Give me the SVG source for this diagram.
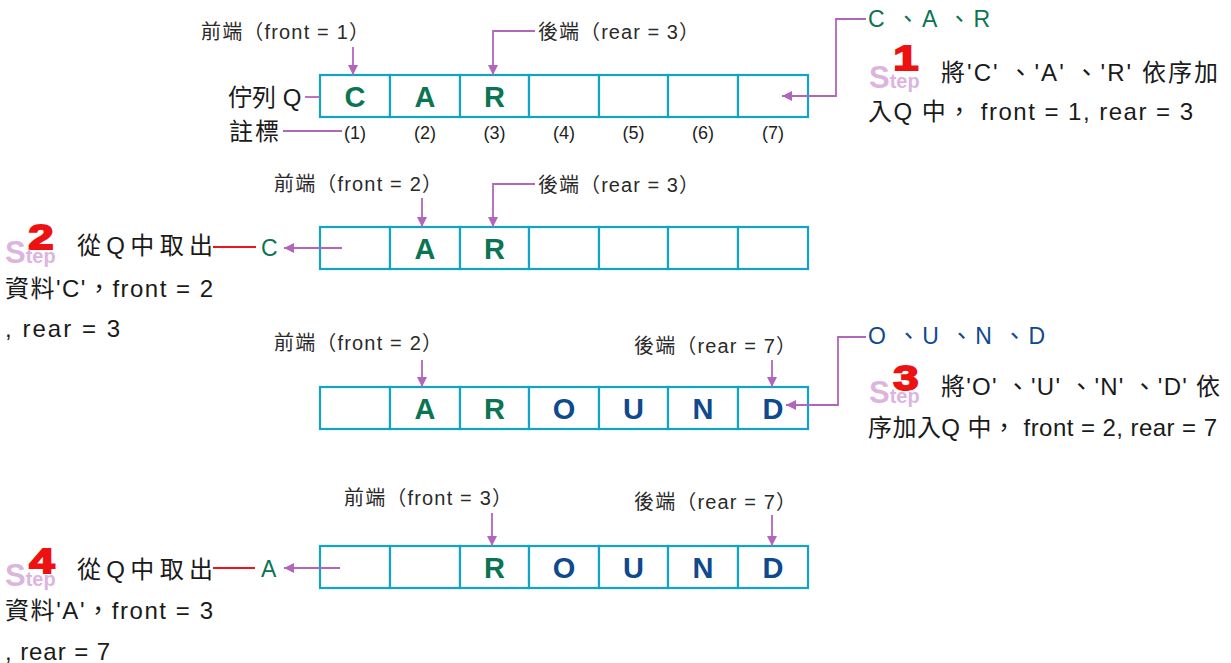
<svg xmlns="http://www.w3.org/2000/svg" width="1231" height="663" viewBox="0 0 1231 663">
<style>
text{font-family:"Liberation Sans","Noto Sans CJK TC",sans-serif;}
.cell{fill:#fff;stroke:#12a3c6;stroke-width:2.2;}
.lbl{font-size:20px;fill:#2a2a2a;}
.idx{font-size:18px;fill:#222;text-anchor:middle;}
.g{font-size:29px;font-weight:bold;fill:#0b7452;text-anchor:middle;}
.b{font-size:29px;font-weight:bold;fill:#0e4a8c;text-anchor:middle;}
.con{fill:none;stroke:#b266bb;stroke-width:1.8;}
.red{fill:none;stroke:#e8181c;stroke-width:2.2;}
.step{fill:#dcb5df;font-weight:bold;}
.num{fill:#ee1111;stroke:#ee1111;stroke-width:1.8;font-weight:bold;font-size:35px;text-anchor:middle;}
.txt{font-size:24px;fill:#1a1a1a;}
.gt{font-size:23px;fill:#0b7452;}
.bt{font-size:23px;fill:#0e4a8c;}
</style>
<defs>
<marker id="ah" viewBox="0 0 10 10" refX="10" refY="5" markerWidth="10" markerHeight="10" markerUnits="userSpaceOnUse" orient="auto">
<path d="M0,0 L10,5 L0,10 z" fill="#b266bb"/>
</marker>
</defs>

<g id="queue1">
<rect class="cell" x="320" y="75" width="70" height="42"/><rect class="cell" x="390" y="75" width="70" height="42"/><rect class="cell" x="460" y="75" width="69" height="42"/><rect class="cell" x="529" y="75" width="70" height="42"/><rect class="cell" x="599" y="75" width="69" height="42"/><rect class="cell" x="668" y="75" width="70" height="42"/><rect class="cell" x="738" y="75" width="70" height="42"/>
<text class="g" x="355" y="107">C</text><text class="g" x="425" y="107">A</text><text class="g" x="494.5" y="107">R</text>
<text class="idx" x="355" y="139">(1)</text><text class="idx" x="425" y="139">(2)</text><text class="idx" x="494.5" y="139">(3)</text><text class="idx" x="564" y="139">(4)</text><text class="idx" x="633.5" y="139">(5)</text><text class="idx" x="703" y="139">(6)</text><text class="idx" x="773" y="139">(7)</text>
</g>
<g id="labels1">
<text class="lbl" x="201" y="39" textLength="168" lengthAdjust="spacing">前端（front = 1）</text>
<text class="lbl" x="538" y="39" textLength="161" lengthAdjust="spacing">後端（rear = 3）</text>
<text class="txt" x="228" y="106" font-size="22">佇列 Q</text>
<text class="txt" x="229" y="140" font-size="22" letter-spacing="2">註標</text>
<text class="gt" x="868" y="27" textLength="122" lengthAdjust="spacing">C 、A 、R</text>
</g>
<g id="step1">
<text class="num" transform="translate(906,70) scale(1.3,1)">1</text>
<text class="step" x="869" y="88"><tspan font-size="31">S</tspan><tspan font-size="20">tep</tspan></text>
<text class="txt" x="941" y="81" textLength="277" lengthAdjust="spacing">將'C' 、'A' 、'R' 依序加</text>
<text class="txt" x="868" y="120" textLength="325" lengthAdjust="spacing">入Q 中， front = 1, rear = 3</text>
</g>

<g id="queue2">
<rect class="cell" x="320" y="227" width="70" height="42"/><rect class="cell" x="390" y="227" width="70" height="42"/><rect class="cell" x="460" y="227" width="69" height="42"/><rect class="cell" x="529" y="227" width="70" height="42"/><rect class="cell" x="599" y="227" width="69" height="42"/><rect class="cell" x="668" y="227" width="70" height="42"/><rect class="cell" x="738" y="227" width="70" height="42"/>
<text class="g" x="425" y="259">A</text><text class="g" x="494.5" y="259">R</text>
</g>
<g id="labels2">
<text class="lbl" x="274" y="191" textLength="168" lengthAdjust="spacing">前端（front = 2）</text>
<text class="lbl" x="538" y="192" textLength="161" lengthAdjust="spacing">後端（rear = 3）</text>
<text class="gt" x="261" y="256">C</text>
</g>
<g id="step2">
<text class="num" transform="translate(41,249) scale(1.3,1)">2</text>
<text class="step" x="5" y="263"><tspan font-size="31">S</tspan><tspan font-size="20">tep</tspan></text>
<text class="txt" x="77" y="254" textLength="136" lengthAdjust="spacing">從Q中取出</text>
<text class="txt" x="5" y="297" textLength="208" lengthAdjust="spacing">資料'C'，front = 2</text>
<text class="txt" x="5" y="337" textLength="115" lengthAdjust="spacing">, rear = 3</text>
</g>

<g id="queue3">
<rect class="cell" x="320" y="387" width="70" height="42"/><rect class="cell" x="390" y="387" width="70" height="42"/><rect class="cell" x="460" y="387" width="69" height="42"/><rect class="cell" x="529" y="387" width="70" height="42"/><rect class="cell" x="599" y="387" width="69" height="42"/><rect class="cell" x="668" y="387" width="70" height="42"/><rect class="cell" x="738" y="387" width="70" height="42"/>
<text class="g" x="425" y="419">A</text><text class="g" x="494.5" y="419">R</text><text class="b" x="564" y="419">O</text><text class="b" x="633.5" y="419">U</text><text class="b" x="703" y="419">N</text><text class="b" x="773" y="419">D</text>
</g>
<g id="labels3">
<text class="lbl" x="274" y="350" textLength="168" lengthAdjust="spacing">前端（front = 2）</text>
<text class="lbl" x="634" y="353" textLength="162" lengthAdjust="spacing">後端（rear = 7）</text>
<text class="bt" x="868" y="344" textLength="177" lengthAdjust="spacing">O 、U 、N 、D</text>
</g>
<g id="step3">
<text class="num" transform="translate(906,390) scale(1.3,1)">3</text>
<text class="step" x="869" y="403"><tspan font-size="31">S</tspan><tspan font-size="20">tep</tspan></text>
<text class="txt" x="941" y="395" textLength="279" lengthAdjust="spacing">將'O' 、'U' 、'N' 、'D' 依</text>
<text class="txt" x="868" y="436" textLength="349" lengthAdjust="spacing">序加入Q 中， front = 2, rear = 7</text>
</g>

<g id="queue4">
<rect class="cell" x="320" y="546" width="70" height="42"/><rect class="cell" x="390" y="546" width="70" height="42"/><rect class="cell" x="460" y="546" width="69" height="42"/><rect class="cell" x="529" y="546" width="70" height="42"/><rect class="cell" x="599" y="546" width="69" height="42"/><rect class="cell" x="668" y="546" width="70" height="42"/><rect class="cell" x="738" y="546" width="70" height="42"/>
<text class="g" x="494.5" y="578">R</text><text class="b" x="564" y="578">O</text><text class="b" x="633.5" y="578">U</text><text class="b" x="703" y="578">N</text><text class="b" x="773" y="578">D</text>
</g>
<g id="labels4">
<text class="lbl" x="344" y="505" textLength="168" lengthAdjust="spacing">前端（front = 3）</text>
<text class="lbl" x="634" y="509" textLength="162" lengthAdjust="spacing">後端（rear = 7）</text>
<text class="gt" x="261" y="577">A</text>
</g>
<g id="step4">
<text class="num" transform="translate(42,573) scale(1.3,1)">4</text>
<text class="step" x="5" y="586"><tspan font-size="31">S</tspan><tspan font-size="20">tep</tspan></text>
<text class="txt" x="77" y="578" textLength="136" lengthAdjust="spacing">從Q中取出</text>
<text class="txt" x="5" y="619" textLength="208" lengthAdjust="spacing">資料'A'，front = 3</text>
<text class="txt" x="5" y="660" textLength="105" lengthAdjust="spacing">, rear = 7</text>
</g>

<g id="connectors">
<path class="con" d="M353,47 V75" marker-end="url(#ah)"/>
<path class="con" d="M535,31 H493 V75" marker-end="url(#ah)"/>
<path class="con" d="M305,97 H320"/>
<path class="con" d="M283,131 H342"/>
<path class="con" d="M866,19 H836 V96 H782" marker-end="url(#ah)"/>
<path class="con" d="M422,198 V227" marker-end="url(#ah)"/>
<path class="con" d="M535,184 H493 V227" marker-end="url(#ah)"/>
<path class="red" d="M213,247 H256"/>
<path class="con" d="M342,248 H284" marker-end="url(#ah)"/>
<path class="con" d="M422,360 V387" marker-end="url(#ah)"/>
<path class="con" d="M772,360 V387" marker-end="url(#ah)"/>
<path class="con" d="M866,337 H838 V405 H786" marker-end="url(#ah)"/>
<path class="con" d="M492,513 V546" marker-end="url(#ah)"/>
<path class="con" d="M772,515 V546" marker-end="url(#ah)"/>
<path class="red" d="M213,568 H255"/>
<path class="con" d="M340,568 H284" marker-end="url(#ah)"/>
</g>
</svg>
